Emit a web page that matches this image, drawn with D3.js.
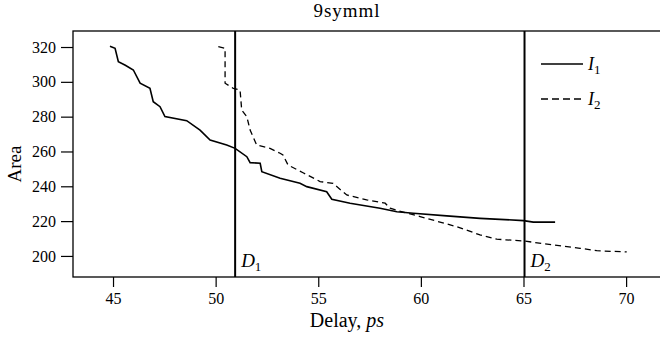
<!DOCTYPE html>
<html><head><meta charset="utf-8">
<script src="https://cdn.jsdelivr.net/npm/d3@7/dist/d3.min.js"></script>
<style>body{margin:0;background:#fff}svg, svg text{font-family:"Liberation Serif",serif !important;fill:#000}</style>
</head><body><svg id="c" width="660" height="339" font-family="Liberation Serif"></svg>
<script>
const title = "9symml";
const xTicks = [45, 50, 55, 60, 65, 70];
const yTicks = [200, 220, 240, 260, 280, 300, 320];
const i1X = [44.85,45.10,45.26,45.60,45.99,46.32,46.80,46.96,47.29,47.53,48.59,49.24,49.73,50.54,50.95,51.52,51.68,52.17,52.25,53.14,54.11,54.44,55.41,55.66,56.55,58.01,58.83,59.63,61.26,62.88,65.00,65.48,66.54];
const i1Y = [320.5,319.3,311.6,309.5,306.8,299.2,296.3,288.6,285.7,280.0,277.7,272.3,266.6,263.7,261.8,257.0,253.6,253.2,248.4,244.6,241.7,239.8,236.9,232.6,230.3,227.4,225.4,224.5,223.0,221.6,220.3,219.4,219.4];
const i2X = [50.13,50.46,50.46,50.86,51.19,51.27,51.52,51.68,52.00,52.65,53.14,53.28,53.53,54.26,55.09,55.72,56.39,57.36,58.26,58.50,58.89,59.96,61.75,62.88,63.70,65.00,66.46,67.76,68.57,70.03];
const i2Y = [320.2,319.3,299.2,296.3,295.3,283.8,280.0,272.3,263.7,261.8,259.0,258.0,252.2,247.8,242.7,241.7,235.0,232.2,230.3,227.4,226.0,222.6,216.8,212.1,209.6,208.6,206.3,204.4,203.0,202.3];
const dLines = [50.95, 65.05];
const dNames = ["1", "2"];

const FF = '"Liberation Serif", serif';
const svg = d3.select("#c");
const L = 73, R = 661, T = 31, B = 277;
const x = d3.scaleLinear().domain([43.05, 71.7]).range([L, R]);
const y = d3.scaleLinear().domain([187.9, 329.2]).range([B, T]);

svg.append("text").attr("x", 347).attr("y", 17).attr("text-anchor", "middle")
  .attr("font-size", 19).attr("letter-spacing", 1).text(title);

svg.append("rect").attr("x", L).attr("y", T).attr("width", R - L).attr("height", B - T)
  .attr("fill", "none").attr("stroke", "#000").attr("stroke-width", 1.3);

const xa = svg.append("g").attr("transform", `translate(0,${B})`)
  .call(d3.axisBottom(x).tickValues(xTicks).tickSize(10).tickPadding(6).tickFormat(d3.format("d")));
const ya = svg.append("g").attr("transform", `translate(${L},0)`)
  .call(d3.axisLeft(y).tickValues(yTicks).tickSize(12).tickPadding(5).tickFormat(d3.format("d")));
[xa, ya].forEach(a => {
  a.attr("font-family", FF).attr("font-size", 16);
  a.select(".domain").remove();
  a.selectAll("line").attr("stroke", "#000").attr("stroke-width", 1.2);
  a.selectAll("text").attr("font-size", 16).attr("font-family", FF);
});

const lx = svg.append("text").attr("x", 347).attr("y", 327).attr("text-anchor", "middle").attr("font-size", 20);
lx.append("tspan").text("Delay, ");
lx.append("tspan").attr("font-style", "italic").text("ps");
svg.append("text").attr("transform", `translate(21,164) rotate(-90)`).attr("text-anchor", "middle").attr("font-size", 19).text("Area");

const line = d3.line().x(d => x(d[0])).y(d => y(d[1]));
svg.append("clipPath").attr("id", "pc").append("rect").attr("x", L).attr("y", T).attr("width", R - L).attr("height", B - T);
const g = svg.append("g").attr("clip-path", "url(#pc)");
g.append("path").datum(i1X.map((v, i) => [v, i1Y[i]])).attr("d", line)
  .attr("fill", "none").attr("stroke", "#000").attr("stroke-width", 1.6);
g.append("path").datum(i2X.map((v, i) => [v, i2Y[i]])).attr("d", line)
  .attr("fill", "none").attr("stroke", "#000").attr("stroke-width", 1.3).attr("stroke-dasharray", "6,4");

dLines.forEach((d, i) => {
  g.append("line").attr("x1", x(d)).attr("x2", x(d)).attr("y1", T).attr("y2", B)
    .attr("stroke", "#000").attr("stroke-width", 2);
  const t = svg.append("text").attr("x", x(d) + 6).attr("y", 267).attr("font-size", 19);
  t.append("tspan").attr("font-style", "italic").text("D");
  t.append("tspan").attr("font-size", 13).attr("dy", 4).text(dNames[i]);
});

const legend = [{n: "1", dash: null, y: 64}, {n: "2", dash: "7,4", y: 99}];
legend.forEach(l => {
  svg.append("line").attr("x1", 541).attr("x2", 583).attr("y1", l.y).attr("y2", l.y)
    .attr("stroke", "#000").attr("stroke-width", 1.4).attr("stroke-dasharray", l.dash);
  const t = svg.append("text").attr("x", 588).attr("y", l.y + 6).attr("font-size", 18);
  t.append("tspan").attr("font-style", "italic").text("I");
  t.append("tspan").attr("font-size", 13).attr("dy", 4).text(l.n);
});
</script></body></html>
